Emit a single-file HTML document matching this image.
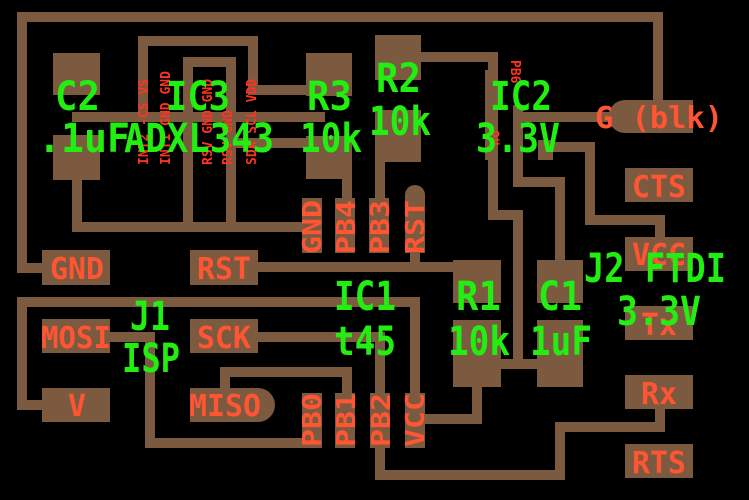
<!DOCTYPE html>
<html><head><meta charset="utf-8"><style>
html,body{margin:0;padding:0;background:#000;}
svg{display:block}
.t{fill:#7b5a40}
.s{stroke:#7b5a40;stroke-width:10;fill:none;stroke-linecap:square}
.g{fill:#22ee11;font-family:"DejaVu Sans Mono","Liberation Mono",monospace;font-size:40px;font-weight:bold}
.r{fill:#ff5533;font-family:"DejaVu Sans Mono","Liberation Mono",monospace;font-size:30px;font-weight:bold}
.rv{fill:#ff5533;font-family:"DejaVu Sans Mono","Liberation Mono",monospace;font-size:26px;font-weight:bold}
.rs{fill:#ff3322;font-family:"DejaVu Sans Mono","Liberation Mono",monospace;font-size:13px;font-weight:bold}
</style></head><body>
<svg width="749" height="500" viewBox="0 0 749 500" xmlns="http://www.w3.org/2000/svg">
<rect width="749" height="500" fill="#000"/>
<g class="s">
<polyline points="48,268 22,268 22,17 658,17 658,105"/>
<polyline points="77,180 77,227 310,227"/>
<polyline points="143,117 143,41 253,41 253,90 320,90"/>
<polyline points="188,227 188,62 231,62 231,227"/>
<line x1="77" y1="117" x2="320" y2="117"/>
<line x1="231" y1="143" x2="320" y2="143"/>
<line x1="347" y1="175" x2="347" y2="200"/>
<line x1="380" y1="160" x2="380" y2="200"/>
<polyline points="421,57 493,57 493,215 518,215 518,364"/>
<line x1="480" y1="364" x2="560" y2="364"/>
<polyline points="518,110 518,182 560,182 560,265"/>
<line x1="518" y1="117" x2="615" y2="117"/>
<polyline points="545,147 590,147 590,220 660,220 660,240"/>
<polyline points="258,267 458,267"/>
<line x1="415" y1="253" x2="415" y2="267"/>
<polyline points="22,302 415,302 415,395"/>
<polyline points="22,302 22,405 48,405"/>
<polyline points="110,337 150,337 150,443 312,443"/>
<polyline points="258,337 380,337 380,395"/>
<polyline points="225,388 225,372 347,372 347,395"/>
<polyline points="380,448 380,475 560,475 560,427 660,427 660,405"/>
<polyline points="477,386 477,419 425,419"/>
<line x1="312" y1="227" x2="280" y2="227"/>
</g>
<g class="t">
<rect x="53" y="53" width="47" height="42"/>
<rect x="53" y="135" width="47" height="45"/>
<rect x="306" y="53" width="46" height="43"/>
<rect x="306" y="136" width="46" height="43"/>
<rect x="375" y="35" width="46" height="45"/>
<rect x="375" y="110" width="46" height="52"/>
<rect x="42" y="250" width="68" height="35"/>
<rect x="190" y="250" width="68" height="35"/>
<rect x="42" y="319" width="68" height="34"/>
<rect x="190" y="319" width="68" height="34"/>
<rect x="42" y="388" width="68" height="34"/>
<path d="M190 388 H258 A17 17 0 0 1 258 422 H190 Z"/>
<path d="M693 100 H625 A16.5 16.5 0 0 0 625 133 H693 Z"/>
<rect x="625" y="168" width="68" height="34"/>
<rect x="625" y="237" width="68" height="34"/>
<rect x="625" y="306" width="68" height="34"/>
<rect x="625" y="375" width="68" height="34"/>
<rect x="625" y="444" width="68" height="34"/>
<rect x="453" y="260" width="48" height="43"/>
<rect x="453" y="320" width="48" height="67"/>
<rect x="537" y="260" width="46" height="43"/>
<rect x="537" y="320" width="46" height="67"/>
<rect x="302" y="198" width="20" height="55"/>
<rect x="335" y="198" width="20" height="55"/>
<rect x="369" y="198" width="20" height="55"/>
<path d="M405 253 V195 A10 10 0 0 1 425 195 V253 Z"/>
<rect x="302" y="393" width="20" height="55"/>
<rect x="335" y="393" width="20" height="55"/>
<rect x="370" y="393" width="20" height="55"/>
<rect x="405" y="393" width="20" height="55"/>
<rect x="485" y="70" width="12" height="90"/>
<rect x="538" y="140" width="15" height="20"/>
</g>
<g class="r" lengthAdjust="spacingAndGlyphs">
<text x="50" y="279" textLength="54" lengthAdjust="spacingAndGlyphs">GND</text>
<text x="197" y="279" textLength="54" lengthAdjust="spacingAndGlyphs">RST</text>
<text x="41" y="348" textLength="70" lengthAdjust="spacingAndGlyphs">MOSI</text>
<text x="197" y="348" textLength="54" lengthAdjust="spacingAndGlyphs">SCK</text>
<text x="68" y="416" textLength="18" lengthAdjust="spacingAndGlyphs">V</text>
<text x="189" y="416" textLength="72" lengthAdjust="spacingAndGlyphs">MISO</text>
<text x="632" y="197" textLength="54" lengthAdjust="spacingAndGlyphs">CTS</text>
<text x="632" y="265" textLength="54" lengthAdjust="spacingAndGlyphs">VCC</text>
<text x="641" y="335" textLength="36" lengthAdjust="spacingAndGlyphs">Tx</text>
<text x="641" y="404" textLength="36" lengthAdjust="spacingAndGlyphs">Rx</text>
<text x="632" y="473" textLength="54" lengthAdjust="spacingAndGlyphs">RTS</text>
<text x="595" y="128" textLength="128" lengthAdjust="spacingAndGlyphs">G (blk)</text>
</g>
<g class="rv">
<text transform="translate(321,254) rotate(-90)" textLength="54" lengthAdjust="spacingAndGlyphs">GND</text>
<text transform="translate(355,254) rotate(-90)" textLength="54" lengthAdjust="spacingAndGlyphs">PB4</text>
<text transform="translate(389,254) rotate(-90)" textLength="54" lengthAdjust="spacingAndGlyphs">PB3</text>
<text transform="translate(424,254) rotate(-90)" textLength="54" lengthAdjust="spacingAndGlyphs">RST</text>
<text transform="translate(321,447) rotate(-90)" textLength="54" lengthAdjust="spacingAndGlyphs">PB0</text>
<text transform="translate(355,447) rotate(-90)" textLength="54" lengthAdjust="spacingAndGlyphs">PB1</text>
<text transform="translate(390,447) rotate(-90)" textLength="54" lengthAdjust="spacingAndGlyphs">PB2</text>
<text transform="translate(424,447) rotate(-90)" textLength="54" lengthAdjust="spacingAndGlyphs">VCC</text>
</g>
<g class="rs">
<text transform="translate(148,165) rotate(-90)">INT2 -CS VS</text>
<text transform="translate(170,165) rotate(-90)">INT1 GND GND</text>
<text transform="translate(212,165) rotate(-90)">RSV GND GND</text>
<text transform="translate(232,165) rotate(-90)">RSV GND</text>
<text transform="translate(256,165) rotate(-90)">SDA SCL VDD</text>
<text transform="translate(511,60) rotate(90)">PB6</text>
<text transform="translate(492,130) rotate(90)">ou</text>
</g>
<g class="g">
<text x="55" y="110" textLength="45" lengthAdjust="spacingAndGlyphs">C2</text>
<text x="38" y="152" textLength="92" lengthAdjust="spacingAndGlyphs">.1uF</text>
<text x="166" y="110" textLength="64" lengthAdjust="spacingAndGlyphs">IC3</text>
<text x="124" y="152" textLength="150" lengthAdjust="spacingAndGlyphs">ADXL343</text>
<text x="307" y="110" textLength="45" lengthAdjust="spacingAndGlyphs">R3</text>
<text x="300" y="152" textLength="62" lengthAdjust="spacingAndGlyphs">10k</text>
<text x="376" y="92" textLength="45" lengthAdjust="spacingAndGlyphs">R2</text>
<text x="369" y="135" textLength="62" lengthAdjust="spacingAndGlyphs">10k</text>
<text x="490" y="110" textLength="62" lengthAdjust="spacingAndGlyphs">IC2</text>
<text x="476" y="152" textLength="84" lengthAdjust="spacingAndGlyphs">3.3V</text>
<text x="584" y="282" textLength="142" lengthAdjust="spacingAndGlyphs">J2 FTDI</text>
<text x="617" y="325" textLength="84" lengthAdjust="spacingAndGlyphs">3.3V</text>
<text x="334" y="310" textLength="62" lengthAdjust="spacingAndGlyphs">IC1</text>
<text x="334" y="355" textLength="62" lengthAdjust="spacingAndGlyphs">t45</text>
<text x="130" y="330" textLength="40" lengthAdjust="spacingAndGlyphs">J1</text>
<text x="122" y="372" textLength="58" lengthAdjust="spacingAndGlyphs">ISP</text>
<text x="456" y="310" textLength="45" lengthAdjust="spacingAndGlyphs">R1</text>
<text x="448" y="355" textLength="62" lengthAdjust="spacingAndGlyphs">10k</text>
<text x="538" y="310" textLength="44" lengthAdjust="spacingAndGlyphs">C1</text>
<text x="530" y="355" textLength="62" lengthAdjust="spacingAndGlyphs">1uF</text>
</g>
</svg>
</body></html>
